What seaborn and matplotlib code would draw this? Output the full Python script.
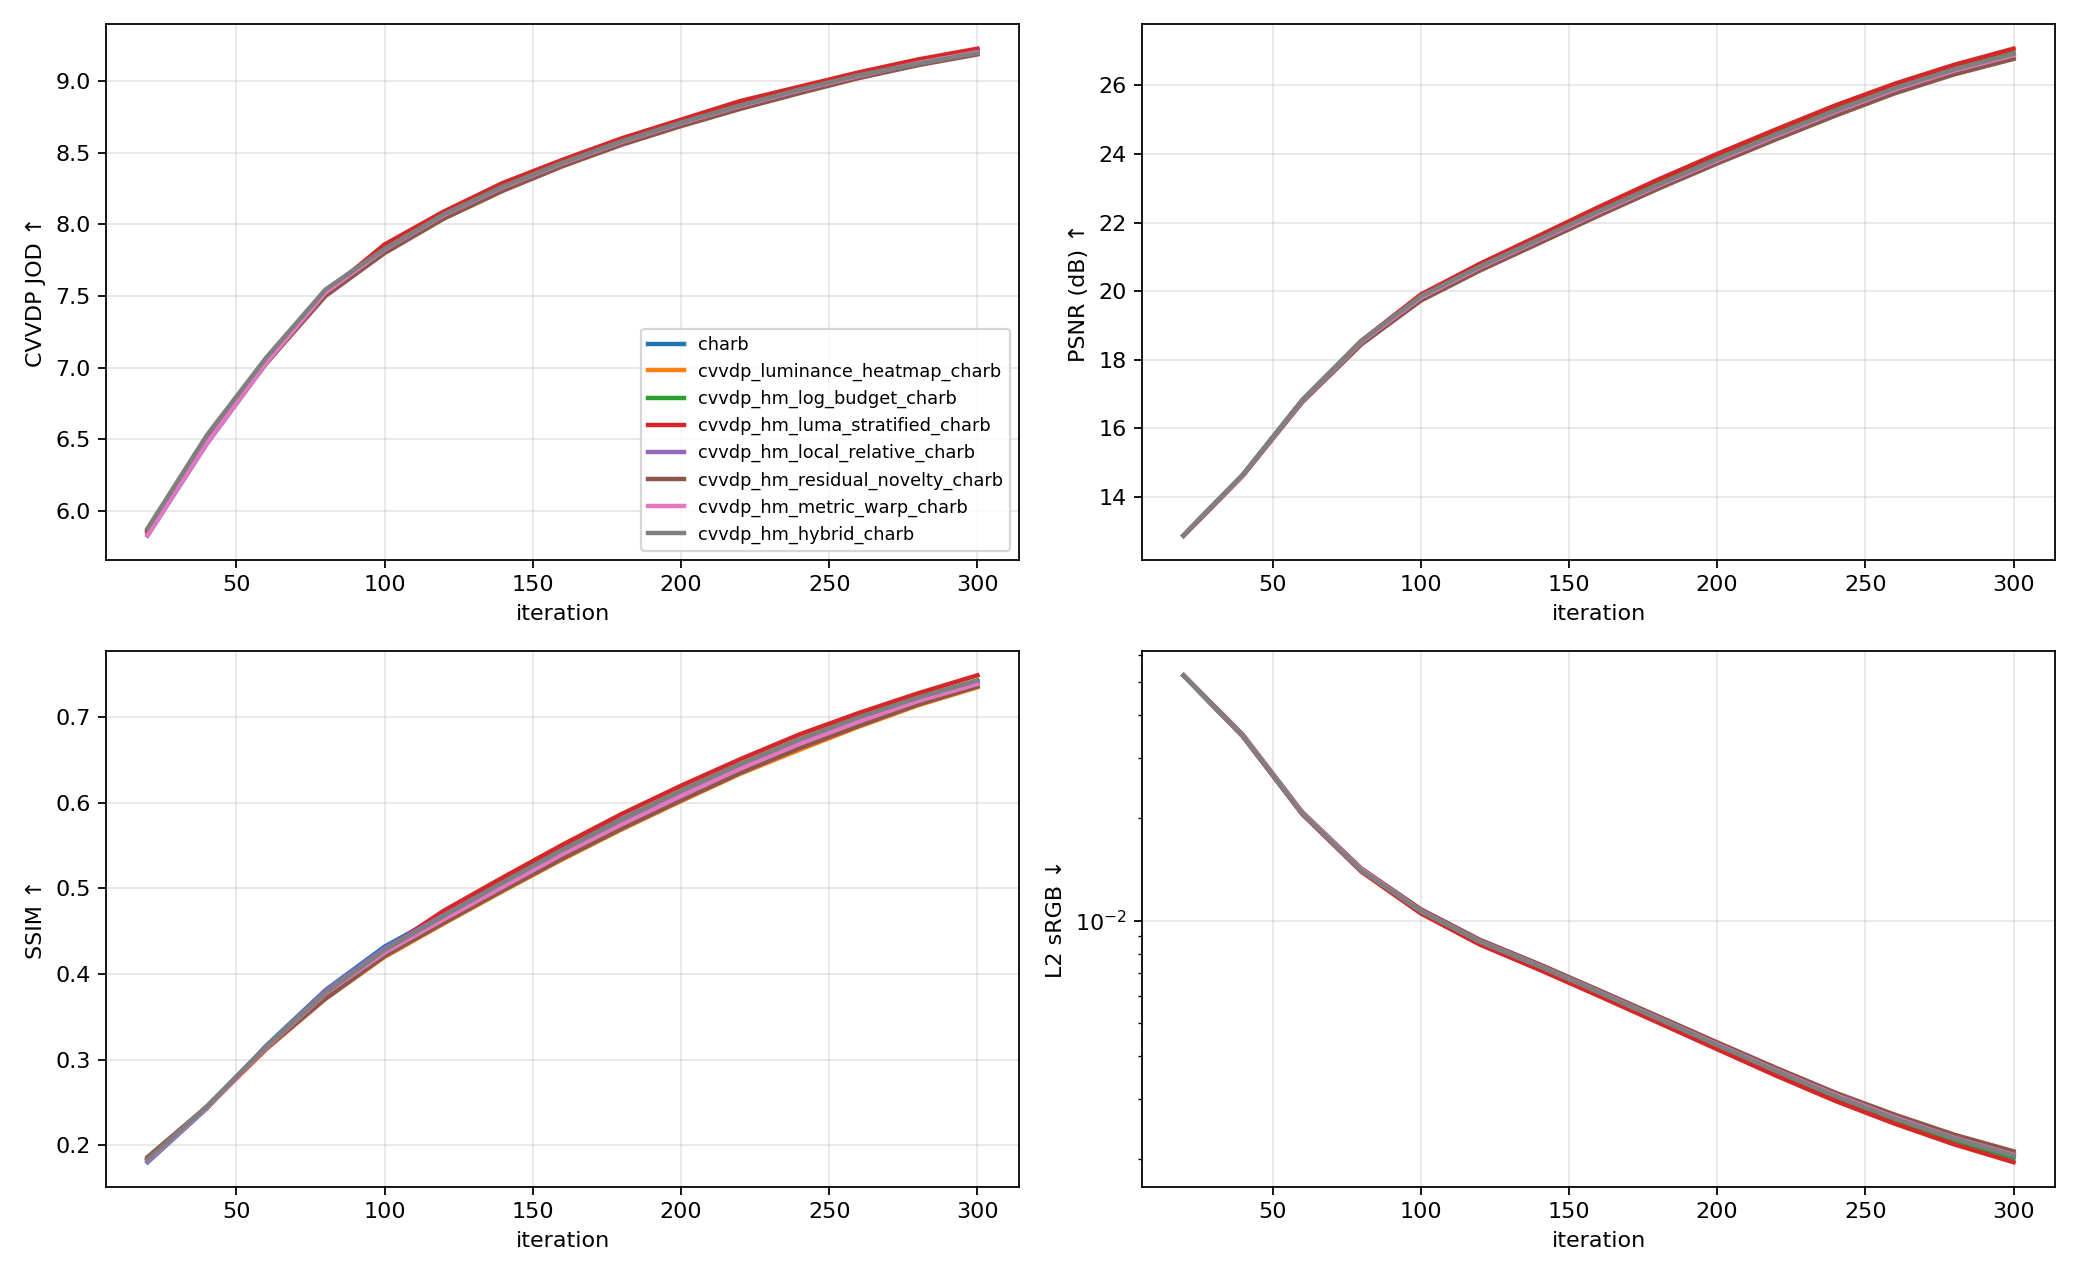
import numpy as np
import pandas as pd
import matplotlib
matplotlib.use("Agg")
import matplotlib.pyplot as plt
import seaborn as sns

iterations = [20, 40, 60, 80, 100, 120, 140, 160, 180, 200, 220, 240, 260, 280, 300]

methods = [
    "charb",
    "cvvdp_luminance_heatmap_charb",
    "cvvdp_hm_log_budget_charb",
    "cvvdp_hm_luma_stratified_charb",
    "cvvdp_hm_local_relative_charb",
    "cvvdp_hm_residual_novelty_charb",
    "cvvdp_hm_metric_warp_charb",
    "cvvdp_hm_hybrid_charb",
]

cvvdp = {
    "charb":                           [5.85, 6.49, 7.04, 7.53, 7.83, 8.07, 8.26, 8.43, 8.575, 8.705, 8.825, 8.935, 9.04, 9.125, 9.205],
    "cvvdp_luminance_heatmap_charb":   [5.86, 6.50, 7.04, 7.52, 7.815, 8.05, 8.245, 8.41, 8.56, 8.69, 8.81, 8.92, 9.025, 9.115, 9.19],
    "cvvdp_hm_log_budget_charb":       [5.875, 6.52, 7.06, 7.54, 7.835, 8.075, 8.27, 8.435, 8.585, 8.715, 8.835, 8.945, 9.045, 9.13, 9.205],
    "cvvdp_hm_luma_stratified_charb":  [5.86, 6.50, 7.05, 7.52, 7.86, 8.09, 8.29, 8.45, 8.60, 8.73, 8.86, 8.96, 9.06, 9.15, 9.225],
    "cvvdp_hm_local_relative_charb":   [5.83, 6.47, 7.03, 7.52, 7.82, 8.06, 8.255, 8.42, 8.57, 8.70, 8.82, 8.93, 9.035, 9.12, 9.20],
    "cvvdp_hm_residual_novelty_charb": [5.87, 6.51, 7.03, 7.50, 7.80, 8.04, 8.235, 8.405, 8.555, 8.685, 8.805, 8.915, 9.02, 9.11, 9.185],
    "cvvdp_hm_metric_warp_charb":      [5.835, 6.475, 7.035, 7.525, 7.825, 8.065, 8.26, 8.425, 8.575, 8.705, 8.825, 8.935, 9.035, 9.125, 9.20],
    "cvvdp_hm_hybrid_charb":           [5.88, 6.53, 7.07, 7.545, 7.83, 8.07, 8.265, 8.43, 8.58, 8.71, 8.83, 8.94, 9.04, 9.12, 9.195],
}

psnr = {
    "charb":                           [12.88, 14.64, 16.81, 18.53, 19.83, 20.71, 21.51, 22.32, 23.09, 23.84, 24.56, 25.26, 25.91, 26.46, 26.91],
    "cvvdp_luminance_heatmap_charb":   [12.87, 14.63, 16.78, 18.48, 19.76, 20.64, 21.44, 22.24, 23.02, 23.76, 24.47, 25.16, 25.81, 26.36, 26.81],
    "cvvdp_hm_log_budget_charb":       [12.88, 14.65, 16.82, 18.55, 19.86, 20.74, 21.55, 22.36, 23.13, 23.88, 24.60, 25.30, 25.95, 26.50, 26.95],
    "cvvdp_hm_luma_stratified_charb":  [12.87, 14.63, 16.80, 18.55, 19.90, 20.80, 21.62, 22.45, 23.25, 24.00, 24.72, 25.42, 26.05, 26.60, 27.07],
    "cvvdp_hm_local_relative_charb":   [12.88, 14.64, 16.80, 18.52, 19.80, 20.68, 21.48, 22.28, 23.06, 23.80, 24.52, 25.22, 25.87, 26.42, 26.87],
    "cvvdp_hm_residual_novelty_charb": [12.87, 14.62, 16.76, 18.45, 19.72, 20.60, 21.40, 22.20, 22.98, 23.72, 24.43, 25.12, 25.77, 26.32, 26.77],
    "cvvdp_hm_metric_warp_charb":      [12.88, 14.64, 16.80, 18.52, 19.81, 20.69, 21.49, 22.29, 23.07, 23.81, 24.53, 25.23, 25.88, 26.43, 26.88],
    "cvvdp_hm_hybrid_charb":           [12.88, 14.65, 16.82, 18.55, 19.85, 20.72, 21.52, 22.33, 23.10, 23.85, 24.57, 25.27, 25.92, 26.47, 26.92],
}

ssim = {
    "charb":                           [0.180, 0.243, 0.316, 0.381, 0.432, 0.470, 0.508, 0.546, 0.581, 0.614, 0.645, 0.674, 0.700, 0.723, 0.742],
    "cvvdp_luminance_heatmap_charb":   [0.184, 0.244, 0.312, 0.371, 0.420, 0.459, 0.497, 0.534, 0.569, 0.602, 0.634, 0.662, 0.689, 0.714, 0.735],
    "cvvdp_hm_log_budget_charb":       [0.183, 0.245, 0.315, 0.378, 0.428, 0.468, 0.507, 0.545, 0.580, 0.614, 0.645, 0.674, 0.700, 0.723, 0.743],
    "cvvdp_hm_luma_stratified_charb":  [0.184, 0.244, 0.313, 0.376, 0.428, 0.474, 0.513, 0.551, 0.587, 0.620, 0.651, 0.680, 0.705, 0.728, 0.749],
    "cvvdp_hm_local_relative_charb":   [0.181, 0.244, 0.315, 0.380, 0.430, 0.469, 0.507, 0.545, 0.580, 0.613, 0.644, 0.673, 0.699, 0.722, 0.741],
    "cvvdp_hm_residual_novelty_charb": [0.186, 0.245, 0.313, 0.371, 0.421, 0.460, 0.498, 0.535, 0.570, 0.603, 0.635, 0.664, 0.690, 0.715, 0.736],
    "cvvdp_hm_metric_warp_charb":      [0.182, 0.244, 0.314, 0.377, 0.425, 0.464, 0.502, 0.540, 0.575, 0.608, 0.640, 0.669, 0.695, 0.719, 0.739],
    "cvvdp_hm_hybrid_charb":           [0.183, 0.245, 0.315, 0.378, 0.428, 0.468, 0.507, 0.545, 0.580, 0.614, 0.645, 0.674, 0.700, 0.723, 0.743],
}

l2 = {
    "charb":                           [0.0522, 0.0347, 0.0206, 0.0140, 0.01062, 0.00864, 0.00732, 0.00614, 0.00513, 0.00429, 0.00359, 0.00303, 0.00260, 0.00227, 0.00202],
    "cvvdp_luminance_heatmap_charb":   [0.0523, 0.0349, 0.0207, 0.0141, 0.01075, 0.00875, 0.00742, 0.00623, 0.00522, 0.00437, 0.00367, 0.00310, 0.00267, 0.00233, 0.00208],
    "cvvdp_hm_log_budget_charb":       [0.0522, 0.0347, 0.0206, 0.0140, 0.01063, 0.00865, 0.00733, 0.00615, 0.00514, 0.00430, 0.00360, 0.00304, 0.00261, 0.00228, 0.00203],
    "cvvdp_hm_luma_stratified_charb":  [0.0522, 0.0346, 0.0205, 0.0139, 0.01050, 0.00850, 0.00718, 0.00602, 0.00503, 0.00420, 0.00351, 0.00296, 0.00254, 0.00221, 0.00196],
    "cvvdp_hm_local_relative_charb":   [0.0522, 0.0348, 0.0207, 0.0141, 0.01070, 0.00870, 0.00738, 0.00620, 0.00519, 0.00435, 0.00365, 0.00309, 0.00266, 0.00232, 0.00207],
    "cvvdp_hm_residual_novelty_charb": [0.0523, 0.0350, 0.0208, 0.0142, 0.01080, 0.00878, 0.00745, 0.00626, 0.00525, 0.00440, 0.00370, 0.00313, 0.00270, 0.00236, 0.00211],
    "cvvdp_hm_metric_warp_charb":      [0.0522, 0.0348, 0.0207, 0.0141, 0.01068, 0.00869, 0.00737, 0.00619, 0.00518, 0.00434, 0.00364, 0.00308, 0.00265, 0.00231, 0.00206],
    "cvvdp_hm_hybrid_charb":           [0.0522, 0.0347, 0.0206, 0.0140, 0.01065, 0.00867, 0.00735, 0.00617, 0.00516, 0.00432, 0.00362, 0.00306, 0.00263, 0.00230, 0.00205],
}

def to_long(d):
    rows = []
    for m in methods:
        for it, v in zip(iterations, d[m]):
            rows.append({"iteration": it, "method": m, "value": v})
    return pd.DataFrame(rows)

palette = sns.color_palette("tab10", len(methods))

fig, axes = plt.subplots(2, 2, figsize=(13, 8), dpi=160)
fig.subplots_adjust(left=0.051, right=0.988, top=0.981, bottom=0.073, wspace=0.135, hspace=0.17)

panels = [
    (axes[0, 0], cvvdp, "CVVDP JOD ↑", False),
    (axes[0, 1], psnr, "PSNR (dB) ↑", False),
    (axes[1, 0], ssim, "SSIM ↑", False),
    (axes[1, 1], l2, "L2 sRGB ↓", True),
]

for i, (ax, d, ylabel, logy) in enumerate(panels):
    df = to_long(d)
    sns.lineplot(data=df, x="iteration", y="value", hue="method", hue_order=methods,
                 palette=palette, linewidth=2, errorbar=None, ax=ax, legend=(i == 0))
    if logy:
        ax.set_yscale("log")
    ax.set_xlabel("iteration")
    ax.set_ylabel(ylabel)
    ax.grid(True, alpha=0.3)
    ax.set_axisbelow(True)
    if i == 0:
        leg = ax.legend(loc="lower right", fontsize=8, title=None)
        for h in leg.get_lines():
            h.set_linewidth(2)

fig.savefig("out.png", dpi=160)
